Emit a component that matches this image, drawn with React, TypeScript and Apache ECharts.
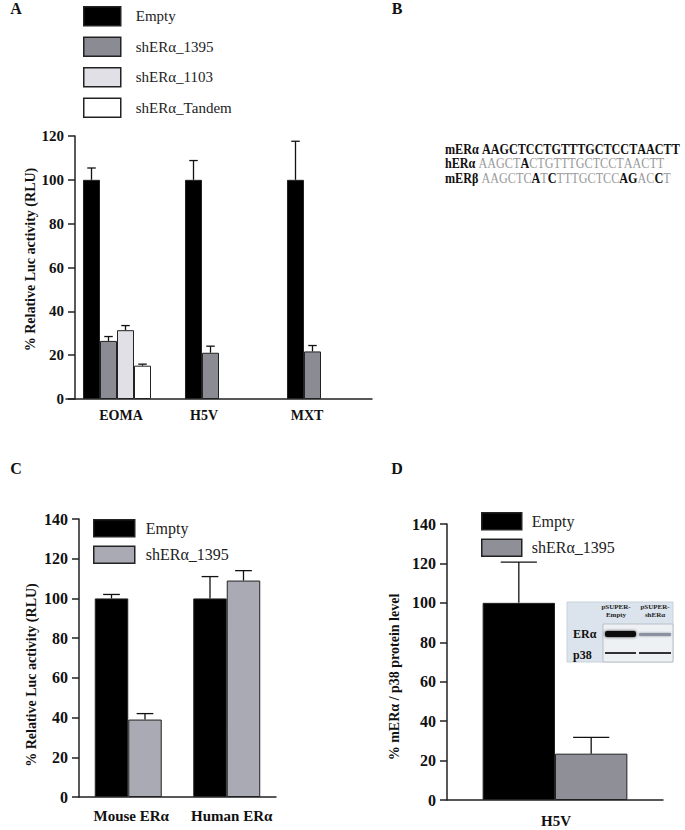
import { useEffect, useRef } from 'react';
import * as echarts from 'echarts';

// ---------- Panel A data ----------
const catsA = ['EOMA', 'H5V', 'MXT'];
const namesA = ['Empty', 'shERα_1395', 'shERα_1103', 'shERα_Tandem'];
const aEmpty = [100, 100, 100];
const aEmptyErr = [105.4, 108.8, 117.6];
const a1395 = [26.5, 21.1, 21.7];
const a1395Err = [28.5, 24.1, 24.4];
const a1103 = [31.4, null, null];
const a1103Err = [33.5, null, null];
const aTandem = [15.2, null, null];
const aTandemErr = [15.9, null, null];

// ---------- Panel B data ----------
const seqLabels = ['mERα', 'hERα', 'mERβ'];
const seqs = ['AAGCTCCTGTTTGCTCCTAACTT', 'AAGCTACTGTTTGCTCCTAACTT', 'AAGCTCATCTTTGCTCCAGACCT'];

// ---------- Panel C data ----------
const catsC = ['Mouse ERα', 'Human ERα'];
const cEmpty = [100, 100];
const cEmptyErr = [102, 111];
const c1395 = [39, 109];
const c1395Err = [42, 114];

// ---------- Panel D data ----------
const catsD = ['H5V'];
const dEmpty = [100];
const dEmptyErr = [120.7];
const d1395 = [23.5];
const d1395Err = [31.8];

const SERIF = '"Liberation Serif", "Times New Roman", serif';
const colorsA = ['#000000', '#8b8b93', '#e0e0e6', '#ffffff'];
const colorsC = ['#000000', '#a9aab3'];
const colorsD = ['#000000', '#8e8f97'];

function errSeries(axisIdx: number, vals: (number | null)[], tops: (number | null)[], sIdx: number, n: number, gap: number) {
  const data: number[][] = [];
  vals.forEach((v, i) => {
    const t = tops[i];
    if (v != null && t != null) data.push([i, v, t]);
  });
  return {
    type: 'custom',
    xAxisIndex: axisIdx,
    yAxisIndex: axisIdx,
    z: 5,
    silent: true,
    encode: { x: 0, y: [1, 2] },
    data,
    renderItem: (params: any, api: any) => {
      const ci = api.value(0);
      const band = api.size([1, 0])[0];
      const groupW = band * (1 - gap);
      const barW = groupW / n;
      const cx = api.coord([ci, 0])[0] - groupW / 2 + barW * (sIdx + 0.5);
      const yv = api.coord([ci, api.value(1)])[1];
      const yt = api.coord([ci, api.value(2)])[1];
      const st = { stroke: '#111', lineWidth: 1.3 };
      return {
        type: 'group',
        children: [
          { type: 'line', shape: { x1: cx, y1: yv, x2: cx, y2: yt }, style: st },
          { type: 'line', shape: { x1: cx - barW / 4, y1: yt, x2: cx + barW / 4, y2: yt }, style: st },
        ],
      };
    },
  };
}

function barSeries(name: string, axisIdx: number, data: (number | null)[], color: string, gap: string) {
  return {
    type: 'bar',
    name,
    xAxisIndex: axisIdx,
    yAxisIndex: axisIdx,
    data: data.map((v) => (v == null ? '-' : v)),
    barGap: '0%',
    barCategoryGap: gap,
    itemStyle: { color, borderColor: '#222', borderWidth: 1 },
  };
}

function seqRich(i: number) {
  const ref = seqs[0];
  const s = seqs[i];
  let out = `{l|${seqLabels[i]}} `;
  for (let k = 0; k < s.length; k++) {
    const bold = i === 0 || s[k] !== ref[k];
    out += bold ? `{b|${s[k]}}` : `{g|${s[k]}}`;
  }
  return out;
}

const axisLineStyle = { lineStyle: { color: '#222', width: 1.5 } };

function yAxisCfg(gridIndex: number, max: number, name: string, nameGap: number, pad: number[], fontSize: number, offset = 0) {
  return {
    type: 'value',
    gridIndex,
    min: 0,
    max,
    interval: 20,
    offset,
    name,
    nameLocation: 'middle',
    nameGap,
    nameRotate: 90,
    nameTextStyle: { fontFamily: SERIF, fontWeight: 'bold', fontSize: 14, color: '#111', padding: pad },
    axisLine: { show: true, ...axisLineStyle },
    axisTick: { show: true, length: 7, lineStyle: { color: '#222', width: 1.5 } },
    splitLine: { show: false },
    axisLabel: { fontFamily: SERIF, fontWeight: 'bold', fontSize, color: '#111', margin: 11 },
  };
}

function xAxisCfg(gridIndex: number, data: string[], fontSize: number, margin: number, pads: number[][]) {
  const rich: any = {};
  pads.forEach((p, i) => {
    rich['c' + i] = { fontFamily: SERIF, fontWeight: 'bold', fontSize, color: '#111', padding: p };
  });
  return {
    type: 'category',
    gridIndex,
    data,
    axisLine: { show: true, ...axisLineStyle },
    axisTick: { show: false },
    axisLabel: {
      interval: 0,
      hideOverlap: false,
      fontFamily: SERIF,
      fontWeight: 'bold',
      fontSize,
      color: '#111',
      margin,
      formatter: (v: string, i: number) => `{c${i}|${v}}`,
      rich,
    },
  };
}

export default function App() {
  const ref = useRef<HTMLDivElement>(null);
  useEffect(() => {
    document.body.style.margin = '0';
    const chart = echarts.init(ref.current!, null, { renderer: 'svg' });
    const gapA = 1 / 3;
    const gapC = 0.32;
    const gapD = 0.33;
    const legendText = (fs: number, pl: number) => ({ fontFamily: SERIF, fontSize: fs, color: '#222', padding: [0, 0, 0, pl] });
    const option: any = {
      animation: false,
      backgroundColor: '#ffffff',
      grid: [
        { left: 66, top: 136, width: 306, height: 263 },
        { left: 79, top: 519, width: 197, height: 278 },
        { left: 447, top: 524, width: 216, height: 276 },
      ],
      legend: [
        {
          left: 83, top: 6, orient: 'vertical', padding: 0, icon: 'rect',
          itemWidth: 37, itemHeight: 19, itemGap: 10,
          data: namesA.map((n, i) => ({ name: n, itemStyle: { color: colorsA[i], borderColor: '#222', borderWidth: 1.5 } })),
          textStyle: legendText(15, 10),
          selectedMode: false,
        },
        {
          left: 93, top: 519, orient: 'vertical', padding: 0, icon: 'rect',
          itemWidth: 41, itemHeight: 17, itemGap: 8,
          data: ['Empty', 'shERα_1395'].map((n, i) => ({ name: n, itemStyle: { color: colorsC[i], borderColor: '#222', borderWidth: 1.5 } })),
          textStyle: legendText(16, 6),
          selectedMode: false,
        },
        {
          left: 481, top: 512, orient: 'vertical', padding: 0, icon: 'rect',
          itemWidth: 40, itemHeight: 17, itemGap: 8,
          data: ['Empty', 'shERα_1395'].map((n, i) => ({ name: n, itemStyle: { color: colorsD[i], borderColor: '#222', borderWidth: 1.5 } })),
          textStyle: legendText(16, 5),
          selectedMode: false,
        },
      ],
      xAxis: [
        xAxisCfg(0, catsA, 14, 9, [[0, 0, 0, 8], [0, 30, 0, 0], [0, 28, 0, 0]]),
        xAxisCfg(1, catsC, 15, 11, [[0, 0, 0, 6], [0, 0, 0, 10]]),
        xAxisCfg(2, catsD, 15, 13, [[0, 0, 0, 2]]),
      ],
      yAxis: [
        yAxisCfg(0, 120, '% Relative Luc activity (RLU)', 35, [0, 0, 0, 16], 15, -9),
        yAxisCfg(1, 140, '% Relative Luc activity (RLU)', 41, [0, 34, 0, 0], 16),
        yAxisCfg(2, 140, '% mERα / p38 protein level', 46, [0, 30, 0, 0], 16),
      ],
      series: [
        barSeries(namesA[0], 0, aEmpty, colorsA[0], '33.33%'),
        barSeries(namesA[1], 0, a1395, colorsA[1], '33.33%'),
        barSeries(namesA[2], 0, a1103, colorsA[2], '33.33%'),
        barSeries(namesA[3], 0, aTandem, colorsA[3], '33.33%'),
        errSeries(0, aEmpty, aEmptyErr, 0, 4, gapA),
        errSeries(0, a1395, a1395Err, 1, 4, gapA),
        errSeries(0, a1103, a1103Err, 2, 4, gapA),
        errSeries(0, aTandem, aTandemErr, 3, 4, gapA),
        barSeries('Empty', 1, cEmpty, colorsC[0], '32%'),
        barSeries('shERα_1395', 1, c1395, colorsC[1], '32%'),
        errSeries(1, cEmpty, cEmptyErr, 0, 2, gapC),
        errSeries(1, c1395, c1395Err, 1, 2, gapC),
        barSeries('Empty', 2, dEmpty, colorsD[0], '33%'),
        barSeries('shERα_1395', 2, d1395, colorsD[1], '33%'),
        errSeries(2, dEmpty, dEmptyErr, 0, 2, gapD),
        errSeries(2, d1395, d1395Err, 1, 2, gapD),
      ],
      graphic: [
        ...[['A', 16, 8], ['B', 397, 8], ['C', 16, 468], ['D', 397, 468]].map(([t, x, y]) => ({
          type: 'text', x, y,
          style: { text: t, fontFamily: SERIF, fontWeight: 'bold', fontSize: 16, fill: '#111', align: 'center', verticalAlign: 'middle' },
        })),
        ...seqs.map((_, i) => ({
          type: 'text', x: 445, y: 149 + i * 14.5, scaleX: 0.935, scaleY: 1.05,
          style: {
            text: seqRich(i),
            verticalAlign: 'middle',
            rich: {
              l: { fontFamily: SERIF, fontWeight: 'bold', fontSize: 13, fill: '#111' },
              b: { fontFamily: SERIF, fontWeight: 'bold', fontSize: 13, fill: '#111' },
              g: { fontFamily: SERIF, fontWeight: 'normal', fontSize: 13, fill: '#9a9a9a' },
            },
          },
        })),
        {
          type: 'group', x: 567, y: 602, z: 10,
          children: [
            { type: 'rect', shape: { x: 0, y: 0, width: 106, height: 60 }, style: { fill: '#dbe3ec', stroke: '#c9d2dc', lineWidth: 1 } },
            { type: 'rect', shape: { x: 36, y: 22, width: 70, height: 38 }, style: { fill: '#eef1f4', stroke: '#aeb6c0', lineWidth: 0.8 } },
            { type: 'text', x: 49, y: 9, style: { text: 'pSUPER-\nEmpty', fontFamily: SERIF, fontWeight: 'bold', fontSize: 7, lineHeight: 8.5, fill: '#222', align: 'center', verticalAlign: 'middle' } },
            { type: 'text', x: 88, y: 9, style: { text: 'pSUPER-\nshERα', fontFamily: SERIF, fontWeight: 'bold', fontSize: 7, lineHeight: 8.5, fill: '#222', align: 'center', verticalAlign: 'middle' } },
            { type: 'text', x: 6, y: 32, style: { text: 'ERα', fontFamily: SERIF, fontWeight: 'bold', fontSize: 12, fill: '#111', verticalAlign: 'middle' } },
            { type: 'text', x: 6, y: 53, style: { text: 'p38', fontFamily: SERIF, fontWeight: 'bold', fontSize: 12, fill: '#111', verticalAlign: 'middle' } },
            { type: 'rect', shape: { x: 38, y: 29, width: 31, height: 6, r: 2 }, style: { fill: '#0d0d0d', shadowBlur: 3, shadowColor: 'rgba(0,0,0,0.8)' } },
            { type: 'rect', shape: { x: 72, y: 31, width: 32, height: 3, r: 1 }, style: { fill: '#8a92a2', shadowBlur: 2, shadowColor: 'rgba(60,60,80,0.5)' } },
            { type: 'rect', shape: { x: 38, y: 50, width: 31, height: 2 }, style: { fill: '#333', shadowBlur: 1.5, shadowColor: 'rgba(0,0,0,0.6)' } },
            { type: 'rect', shape: { x: 72, y: 50, width: 32, height: 2 }, style: { fill: '#333', shadowBlur: 1.5, shadowColor: 'rgba(0,0,0,0.6)' } },
          ],
        },
      ],
    };
    chart.setOption(option);
    return () => chart.dispose();
  }, []);
  return <div ref={ref} style={{ width: 685, height: 830 }} />;
}
